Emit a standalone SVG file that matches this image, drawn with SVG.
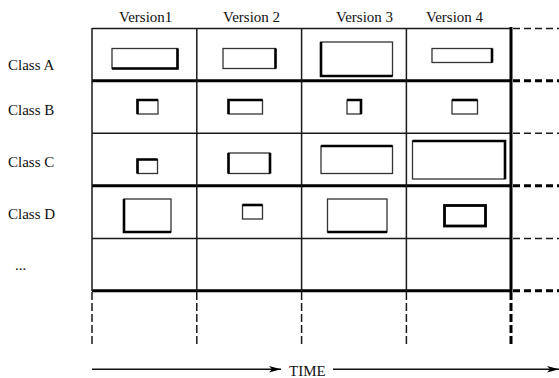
<svg xmlns="http://www.w3.org/2000/svg" width="559" height="378" viewBox="0 0 559 378">
<defs>
<style>
text{font-family:"Liberation Serif","Times New Roman",serif;font-size:15px;fill:#111}
.g{stroke:#1a1a1a;stroke-width:1.5;fill:none}
.gt{stroke:#000;stroke-width:3;fill:none}
.dh{stroke:#1a1a1a;stroke-width:1.5;stroke-dasharray:7 4;fill:none}
.dht{stroke:#000;stroke-width:3;stroke-dasharray:7 4;fill:none}
.dv{stroke:#1a1a1a;stroke-width:1.5;stroke-dasharray:8 3;fill:none}
.dvt{stroke:#000;stroke-width:3;stroke-dasharray:8 3;fill:none}
.b{fill:#fff;stroke:#333;stroke-width:1.3}
.k{stroke:#000;stroke-width:2.6;fill:none}
.ar{stroke:#111;stroke-width:1.4;fill:none}
</style>
<marker id="ah" markerWidth="14" markerHeight="10" refX="12" refY="5" orient="auto" markerUnits="userSpaceOnUse">
<path d="M0,1.8 L12,5 L0,8.2 L3,5 Z" fill="#000"/>
</marker>
</defs>
<rect width="559" height="378" fill="#fff"/>

<g id="headers">
<text x="119" y="21.5">Version1</text>
<text x="223" y="21.5">Version 2</text>
<text x="336" y="21.5">Version 3</text>
<text x="426" y="21.5">Version 4</text>
</g>
<g id="classes">
<text x="8" y="69.5">Class A</text>
<text x="8" y="115">Class B</text>
<text x="8" y="166.5">Class C</text>
<text x="8" y="219">Class D</text>
<text x="15" y="270">...</text>
</g>

<g id="grid">
<line class="g" x1="92" y1="28.5" x2="511" y2="28.5"/>
<line class="gt" x1="92" y1="80.7" x2="511" y2="80.7"/>
<line class="g" x1="92" y1="133.3" x2="511" y2="133.3"/>
<line class="gt" x1="92" y1="185.7" x2="511" y2="185.7"/>
<line class="g" x1="92" y1="238.5" x2="511" y2="238.5"/>
<line class="gt" x1="92" y1="290.7" x2="511" y2="290.7"/>
<line class="g" x1="92" y1="28" x2="92" y2="291"/>
<line class="g" x1="196.8" y1="28" x2="196.8" y2="291"/>
<line class="g" x1="301.6" y1="28" x2="301.6" y2="291"/>
<line class="g" x1="406.4" y1="28" x2="406.4" y2="291"/>
<line class="gt" x1="511" y1="27" x2="511" y2="292"/>
</g>
<g id="extensions">
<line class="dh" x1="513" y1="28.5" x2="559" y2="28.5"/>
<line class="dht" x1="513" y1="80.7" x2="559" y2="80.7"/>
<line class="dh" x1="513" y1="133.3" x2="559" y2="133.3"/>
<line class="dht" x1="513" y1="185.7" x2="559" y2="185.7"/>
<line class="dh" x1="513" y1="238.5" x2="559" y2="238.5"/>
<line class="dht" x1="513" y1="290.7" x2="559" y2="290.7"/>
<line class="dv" x1="92" y1="292" x2="92" y2="344"/>
<line class="dv" x1="196.8" y1="292" x2="196.8" y2="344"/>
<line class="dv" x1="301.6" y1="292" x2="301.6" y2="344"/>
<line class="dv" x1="406.4" y1="292" x2="406.4" y2="344"/>
<line class="dvt" x1="511" y1="292" x2="511" y2="344"/>
</g>

<g id="A1"><rect class="b" x="112" y="48.5" width="65.5" height="20"/><path class="k" d="M177.5,48.5 V68.5 H112"/></g>
<g id="A2"><rect class="b" x="223" y="48.5" width="52.5" height="20"/><path class="k" d="M275.5,48.5 V68.5"/></g>
<g id="A3"><rect class="b" x="321" y="42" width="71.5" height="34"/><path class="k" d="M321,42 V76 H392.5"/></g>
<g id="A4"><rect class="b" x="432" y="48.5" width="60" height="14"/><path class="k" d="M492,48.5 V62.5"/></g>

<g id="B1"><rect class="b" x="137.5" y="100" width="20.5" height="14"/><path class="k" d="M137.5,114 V100 H158"/></g>
<g id="B2"><rect class="b" x="228.5" y="100" width="34" height="14"/><path class="k" d="M228.5,114 V100 H262.5"/></g>
<g id="B3"><rect class="b" x="347" y="100" width="14" height="14"/><path class="k" d="M347,100 H361 V114"/></g>
<g id="B4"><rect class="b" x="452" y="100" width="25.5" height="14"/><path class="k" d="M452,100 H477.5"/></g>

<g id="C1"><rect class="b" x="137.5" y="159.5" width="20" height="14"/><path class="k" d="M137.5,173.5 V159.5 H157.5"/></g>
<g id="C2"><rect class="b" x="228.5" y="153" width="41.5" height="20.5"/><path class="k" d="M228.5,153 V173.5 M270,153 V173.5"/></g>
<g id="C3"><rect class="b" x="321" y="146" width="71.5" height="27.5"/><path class="k" d="M321,146 H392.5"/></g>
<g id="C4"><rect class="b" x="412.5" y="141" width="92.5" height="38"/><path class="k" d="M412.5,141 H505 V179"/></g>

<g id="D1"><rect class="b" x="124" y="199" width="47" height="33"/><path class="k" d="M124,199 V232 H171"/></g>
<g id="D2"><rect class="b" x="242.5" y="205" width="20" height="14"/><path class="k" d="M242.5,205 H262.5"/></g>
<g id="D3"><rect class="b" x="327.5" y="199" width="59.5" height="33"/><path class="k" d="M327.5,232 H387"/></g>
<g id="D4"><rect x="444.5" y="205.5" width="41" height="20.5" fill="#fff" stroke="#000" stroke-width="2.8"/></g>

<g id="connectors">
<line class="ar" x1="92" y1="369.3" x2="281" y2="369.3" marker-end="url(#ah)"/>
<line class="ar" x1="333" y1="369.3" x2="559" y2="369.3" marker-end="url(#ah)"/>
</g>
<g id="time"><text x="289" y="376">TIME</text></g>
</svg>
